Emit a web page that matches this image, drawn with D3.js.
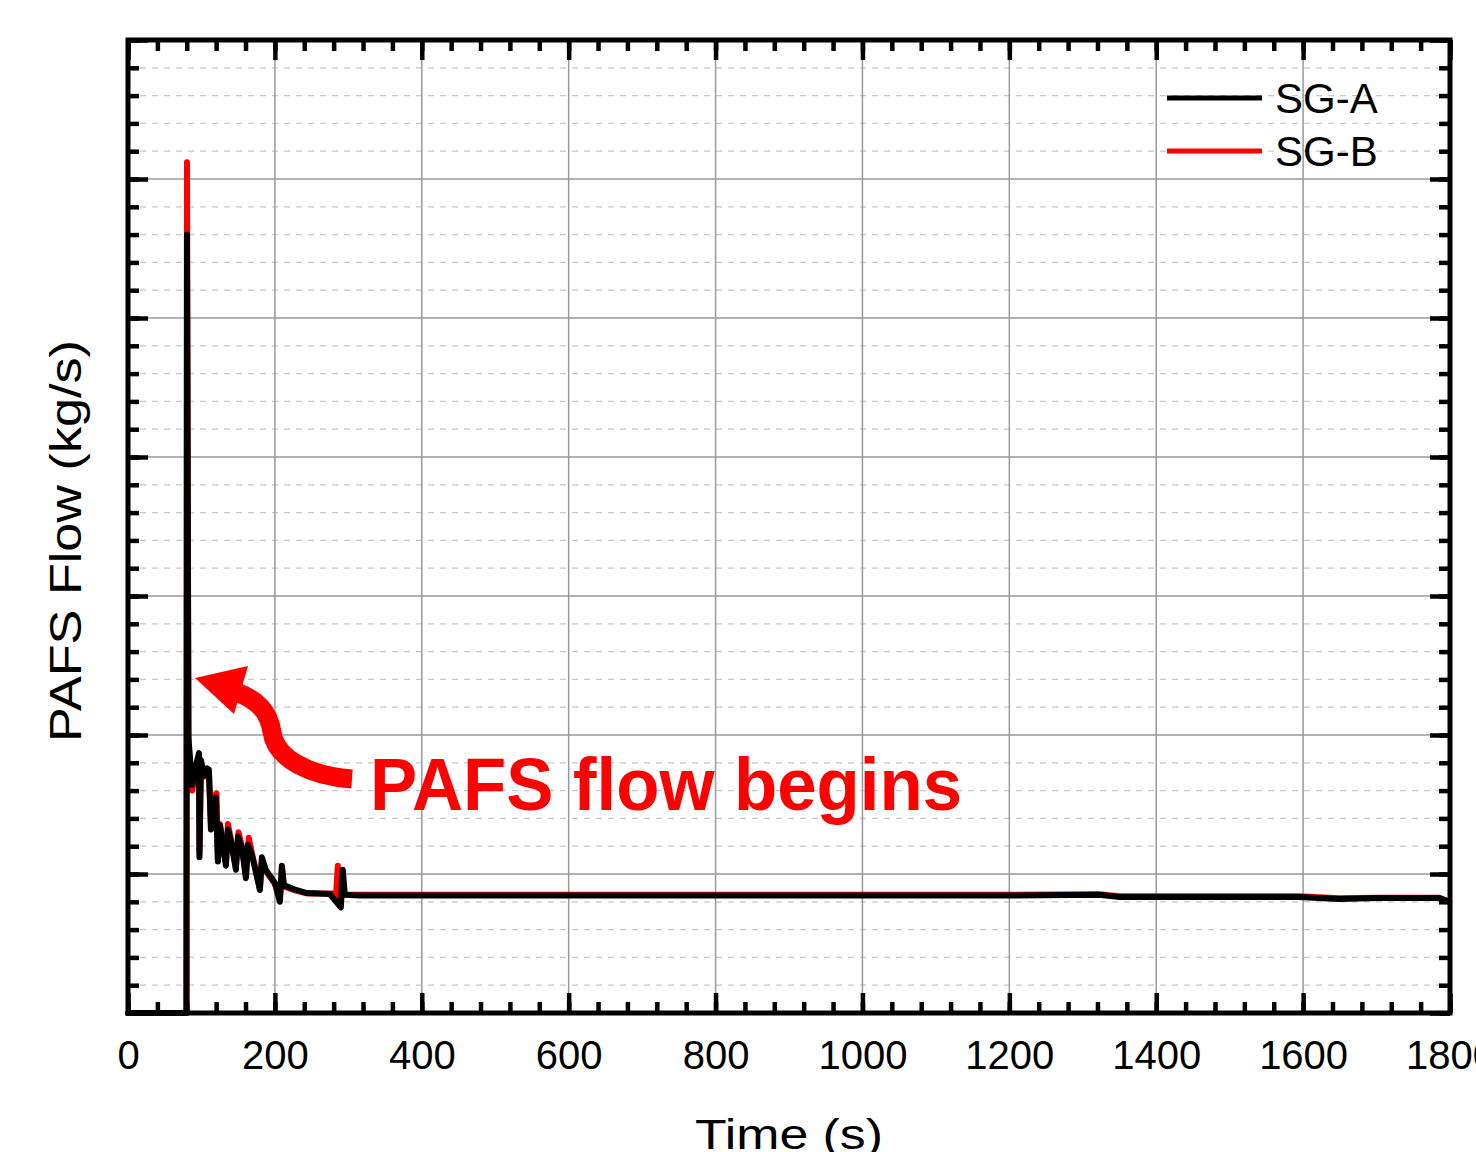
<!DOCTYPE html>
<html>
<head>
<meta charset="utf-8">
<script src="https://cdn.jsdelivr.net/npm/d3@7"></script>
<style>
  body { margin: 0; background: #fff; }
  svg text { font-family: "Liberation Sans", Arial, sans-serif; }
</style>
</head>
<body>
<div id="chart"></div>
<script>
// SG-A (black)
var timeA = [0, 79.6, 80.3, 82.3, 85.7, 87.5, 91.2, 96.6, 97.3, 99.3, 103.4, 107.5, 110.2, 112.9, 115.6,
  119.7, 122.4, 125.2, 133.3, 136.1, 140.1, 146.9, 149.7, 155.1, 160.5, 163.3, 168.7, 179.6, 182.3, 187.7,
  200, 206.8, 209.5, 212.2, 228.6, 243.5, 274.8, 289.8, 292.5, 295.2, 315.6, 778, 1186, 1322, 1350,
  1594, 1649, 1703, 1785, 1799];
var flowA = [0, 0, 5.6, 1.98, 1.75, 1.64, 1.75, 1.87, 1.12, 1.82, 1.71, 1.76, 1.75, 1.32, 1.50,
  1.55, 1.09, 1.35, 1.06, 1.32, 1.24, 1.03, 1.27, 1.19, 0.97, 1.21, 1.14, 0.885, 1.12, 1.03,
  0.935, 0.80, 1.06, 0.92, 0.885, 0.863, 0.856, 0.76, 1.03, 0.85, 0.845, 0.845, 0.845, 0.85, 0.835,
  0.835, 0.82, 0.827, 0.827, 0.80];
// SG-B (red)
var timeB = [0, 79.6, 80.3, 82.3, 85.7, 87.5, 91.2, 96.6, 97.3, 99.3, 103.4, 107.5, 110.2, 112.9, 115.6,
  120.5, 122.4, 125.2, 133.3, 136.1, 140.1, 146.9, 150.5, 155.1, 160.5, 164.5, 168.7, 179.6, 182.3, 187.7,
  200, 206.8, 209.5, 212.2, 228.6, 243.5, 272, 283.4, 285.7, 287.4, 291, 315.6, 778, 1186, 1322,
  1350, 1594, 1649, 1703, 1785, 1799];
var flowB = [0, 0, 6.12, 1.93, 1.72, 1.6, 1.73, 1.84, 1.15, 1.8, 1.7, 1.74, 1.73, 1.35, 1.55,
  1.58, 1.1, 1.36, 1.08, 1.36, 1.25, 1.05, 1.3, 1.2, 0.99, 1.26, 1.15, 0.9, 1.1, 1.02,
  0.93, 0.82, 1.04, 0.91, 0.88, 0.86, 0.86, 0.86, 1.06, 0.79, 0.85, 0.85, 0.85, 0.85, 0.855,
  0.84, 0.84, 0.825, 0.83, 0.83, 0.8];

var xTicks = [0, 200, 400, 600, 800, 1000, 1200, 1400, 1600, 1800];
var seriesNames = ["SG-A", "SG-B"];
var seriesColors = ["#000000", "#ff0000"];

var W = 1476, H = 1152;
var margin = {top: 40, right: 26, bottom: 139, left: 128};
var width = W - margin.left - margin.right,
    height = H - margin.top - margin.bottom;

var svg = d3.select("#chart").append("svg")
  .attr("width", W).attr("height", H);
var g = svg.append("g").attr("transform", "translate(" + margin.left + "," + margin.top + ")");

var x = d3.scaleLinear().domain([0, 1800]).range([0, width]);
var y = d3.scaleLinear().domain([0, 7]).range([height, 0]);

var minorX = d3.range(0, 1801, 40);
var minorY = d3.range(0, 36).map(function(i) { return i * 0.2; });
var majorY = d3.range(0, 8);

// minor dashed grid (horizontal only)
g.append("g").selectAll("line").data(minorY.filter(function(v) { return Math.abs(v - Math.round(v)) > 0.01; }))
  .enter().append("line")
  .attr("x1", 0).attr("x2", width)
  .attr("y1", d => y(d)).attr("y2", d => y(d))
  .attr("stroke", "#c8c8c8").attr("stroke-width", 1.2).attr("stroke-dasharray", "6,6");

// major grid
g.append("g").selectAll("line").data(majorY.slice(1, 7))
  .enter().append("line")
  .attr("x1", 0).attr("x2", width)
  .attr("y1", d => y(d)).attr("y2", d => y(d))
  .attr("stroke", "#999").attr("stroke-width", 1.5);
g.append("g").selectAll("line").data(xTicks.slice(1, 9))
  .enter().append("line")
  .attr("y1", 0).attr("y2", height)
  .attr("x1", d => x(d)).attr("x2", d => x(d))
  .attr("stroke", "#999").attr("stroke-width", 1.5);

// series
var line = d3.line().x(d => x(d[0])).y(d => y(d[1]));
var dataB = timeB.map(function(t, i) { return [t, flowB[i]]; });
var dataA = timeA.map(function(t, i) { return [t, flowA[i]]; });
g.append("path").datum(dataB).attr("d", line)
  .attr("fill", "none").attr("stroke", seriesColors[1]).attr("stroke-width", 6)
  .attr("stroke-linejoin", "round").attr("stroke-linecap", "round");
g.append("path").datum(dataA).attr("d", line)
  .attr("fill", "none").attr("stroke", seriesColors[0]).attr("stroke-width", 6)
  .attr("stroke-linejoin", "round").attr("stroke-linecap", "round");

// axes with inward ticks on all sides
function styleAxis(sel) {
  sel.select(".domain").remove();
  sel.selectAll(".tick line").attr("stroke", "#000").attr("stroke-width", 4.5);
}
g.append("g").attr("transform", "translate(0," + height + ")")
  .call(d3.axisBottom(x).tickValues(minorX).tickSize(-11).tickFormat(""))
  .call(styleAxis);
var xAxis = g.append("g").attr("transform", "translate(0," + height + ")")
  .call(d3.axisBottom(x).tickValues(xTicks).tickSize(-20).tickPadding(28).tickFormat(d3.format("d")))
  .call(styleAxis);
xAxis.selectAll(".tick text").attr("font-size", 40).attr("fill", "#000")
  .attr("font-family", "'Liberation Sans', Arial, sans-serif");

g.append("g").call(d3.axisTop(x).tickValues(minorX).tickSize(-11).tickFormat("")).call(styleAxis);
g.append("g").call(d3.axisTop(x).tickValues(xTicks).tickSize(-20).tickFormat("")).call(styleAxis);
g.append("g").call(d3.axisLeft(y).tickValues(minorY).tickSize(-11).tickFormat("")).call(styleAxis);
g.append("g").call(d3.axisLeft(y).tickValues(majorY).tickSize(-20).tickFormat("")).call(styleAxis);
g.append("g").attr("transform", "translate(" + width + ",0)")
  .call(d3.axisRight(y).tickValues(minorY).tickSize(-11).tickFormat("")).call(styleAxis);
g.append("g").attr("transform", "translate(" + width + ",0)")
  .call(d3.axisRight(y).tickValues(majorY).tickSize(-20).tickFormat("")).call(styleAxis);

// frame
g.append("rect").attr("x", 0).attr("y", 0).attr("width", width).attr("height", height)
  .attr("fill", "none").attr("stroke", "#000").attr("stroke-width", 5);

// axis titles
svg.append("text")
  .attr("x", margin.left + width / 2).attr("y", 1149)
  .attr("text-anchor", "middle").attr("font-size", 43)
  .attr("textLength", 188).attr("lengthAdjust", "spacingAndGlyphs")
  .text("Time (s)");
svg.append("text")
  .attr("transform", "translate(81,541) rotate(-90)")
  .attr("text-anchor", "middle").attr("font-size", 44)
  .attr("textLength", 402).attr("lengthAdjust", "spacingAndGlyphs")
  .text("PAFS Flow (kg/s)");

// legend
var legend = svg.append("g").selectAll("g").data(seriesNames).enter().append("g")
  .attr("transform", function(d, i) { return "translate(1167," + (98 + i * 53) + ")"; });
legend.append("line").attr("x1", 0).attr("x2", 95).attr("y1", 0).attr("y2", 0)
  .attr("stroke", (d, i) => seriesColors[i]).attr("stroke-width", 5);
legend.append("text").attr("x", 108).attr("y", 15).attr("font-size", 42).attr("fill", "#000")
  .text(d => d);

// annotation arrow + label
var ann = svg.append("g");
ann.append("path")
  .attr("d", "M352,779 C312,776 276,760 272,732 C269,712 258,700 236,692")
  .attr("fill", "none").attr("stroke", "#ff0000").attr("stroke-width", 19);
ann.append("path")
  .attr("d", "M195,678 L248,666 L234,714 Z")
  .attr("fill", "#ff0000");
ann.append("text")
  .attr("x", 370).attr("y", 810)
  .attr("font-family", "Lato, 'Open Sans', sans-serif").attr("font-weight", "bold")
  .attr("font-size", 74).attr("fill", "#ff0000")
  .attr("textLength", 592).attr("lengthAdjust", "spacingAndGlyphs")
  .text("PAFS flow begins");
</script>
</body>
</html>
